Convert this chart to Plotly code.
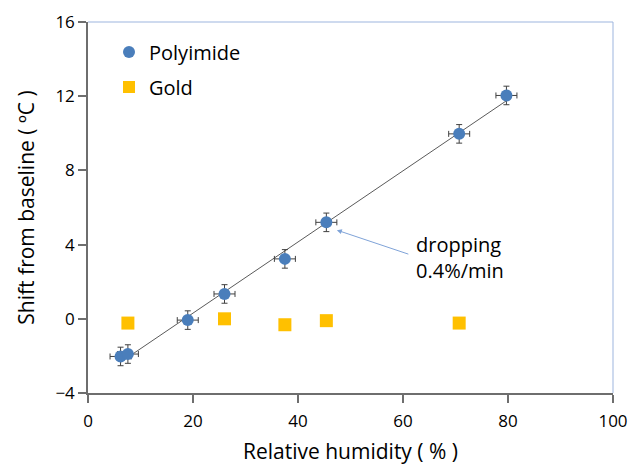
import numpy as np
import plotly.graph_objects as go

# Polyimide data
poly_rh = [6.2, 7.6, 19.0, 26.0, 37.5, 45.4, 70.7, 79.7]
poly_shift = [-2.03, -1.9, -0.07, 1.34, 3.23, 5.2, 9.97, 12.04]
poly_rh_err = [2.0, 2.0, 2.0, 2.0, 2.0, 2.0, 2.0, 2.0]
poly_shift_err = [0.5, 0.5, 0.5, 0.5, 0.5, 0.5, 0.5, 0.5]

# Gold data
gold_rh = [7.6, 26.0, 37.5, 45.4, 70.7]
gold_shift = [-0.23, 0.0, -0.32, -0.1, -0.23]

x_ticks = [0, 20, 40, 60, 80, 100]
y_ticks = [-4, 0, 4, 8, 12, 16]

FONT = "Open Sans"
TXT = "#000000"

slope, intercept = np.polyfit(poly_rh, poly_shift, 1)
fit_x = [min(poly_rh), max(poly_rh)]
fit_y = [slope * v + intercept for v in fit_x]

fig = go.Figure()
fig.add_trace(go.Scatter(x=fit_x, y=fit_y, mode="lines",
                         line=dict(color="#5a5a5a", width=1), showlegend=False,
                         hoverinfo="skip"))
fig.add_trace(go.Scatter(
    x=poly_rh, y=poly_shift, mode="markers", name="Polyimide", legendgroup="p",
    marker=dict(symbol="circle", size=12, color="#4a7ebb"),
    error_x=dict(type="data", array=poly_rh_err, color="#404040", thickness=1, width=3),
    error_y=dict(type="data", array=poly_shift_err, color="#404040", thickness=1, width=3),
))
fig.add_trace(go.Scatter(
    x=gold_rh, y=gold_shift, mode="markers", name="Gold", legendgroup="g",
    marker=dict(symbol="square", size=13, color="#ffc000"),
))

# top and right light-blue borders
fig.add_shape(type="line", xref="paper", yref="paper", x0=0, x1=1, y0=1, y1=1,
              line=dict(color="#9db5de", width=1))
fig.add_shape(type="line", xref="paper", yref="paper", x0=1, x1=1, y0=0, y1=1,
              line=dict(color="#9db5de", width=1))

fig.add_annotation(x=47.4, y=4.78, ax=61.3, ay=3.46, axref="x", ayref="y",
                   xref="x", yref="y", text="", showarrow=True,
                   arrowhead=2, arrowsize=1, arrowwidth=1, arrowcolor="#7fa3d8")
fig.add_annotation(x=62.0, y=3.3, xref="x", yref="y",
                   text="dropping<br>0.4%/min", showarrow=False,
                   xanchor="left", yanchor="middle", align="left",
                   font=dict(family=FONT, size=20, color=TXT))

axis_common = dict(showgrid=False, zeroline=False, showline=True,
                   linecolor="#6e6e6e", linewidth=1.5, ticks="outside",
                   ticklen=8, tickcolor="#6e6e6e", tickwidth=1.5,
                   automargin=False,
                   tickfont=dict(family=FONT, size=17, color=TXT))

fig.update_xaxes(range=[0, 100], tickvals=x_ticks, ticklabelstandoff=4,
                 title=dict(text="Relative humidity ( % )", standoff=18,
                            font=dict(family=FONT, size=21, color=TXT)),
                 **axis_common)
fig.update_yaxes(range=[-4, 16], tickvals=y_ticks,
                 title=dict(text="Shift from baseline ( ºC )", standoff=15,
                            font=dict(family=FONT, size=21, color=TXT)),
                 **axis_common)

fig.update_layout(
    width=634, height=465,
    margin=dict(l=88, r=21, t=22, b=72),
    paper_bgcolor="white", plot_bgcolor="white",
    showlegend=True,
    legend=dict(x=0.04, y=0.972, xanchor="left", yanchor="top",
                font=dict(family=FONT, size=20, color=TXT),
                bgcolor="rgba(0,0,0,0)", itemsizing="constant",
                tracegroupgap=6),
)

fig.write_html("out.html")
